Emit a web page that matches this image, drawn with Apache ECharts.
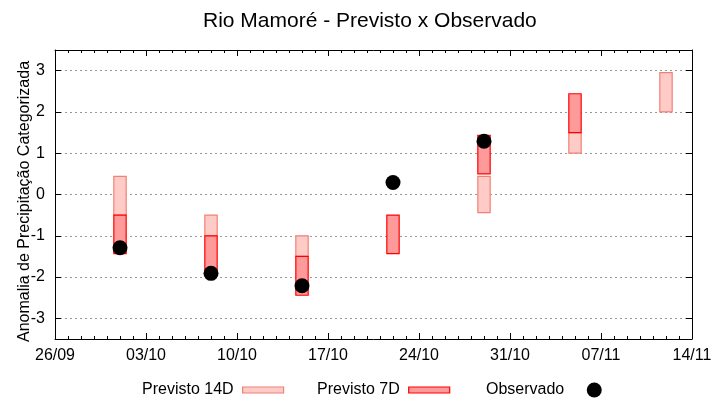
<!DOCTYPE html>
<html>
<head>
<meta charset="utf-8">
<script src="https://cdn.jsdelivr.net/npm/echarts@6/dist/echarts.min.js"></script>
<style>html,body{margin:0;padding:0;background:#fff}#c{width:720px;height:400px}</style>
</head>
<body>
<div id="c"></div>
<script>
const titleText = 'Rio Mamoré - Previsto x Observado';
const yAxisName = 'Anomalia de Precipitação Categorizada';
const xTickLabels = ['26/09','03/10','10/10','17/10','24/10','31/10','07/11','14/11'];
const yTicks = [-3, -2, -1, 0, 1, 2, 3];
const dates = ['01/10','08/10','15/10','22/10','29/10','05/11','12/11'];
const prev14Low  = [-0.5, -1.0, -1.5, null, -0.44, 1.0, 2.0];
const prev14High = [0.44, -0.5, -1.0, null, 0.44, 1.5, 2.95];
const prev7Low   = [-1.43, -1.95, -2.44, -1.43, 0.5, 1.5, null];
const prev7High  = [-0.5, -1.0, -1.5, -0.5, 1.43, 2.44, null];
const observed   = [-1.29, -1.91, -2.21, 0.29, 1.29, null, null];

const YEAR = 2023;
function dayOffset(s) {
  const [d, m] = s.split('/').map(Number);
  const base = Date.UTC(YEAR, 8, 26);
  return Math.round((Date.UTC(YEAR, m - 1, d) - base) / 86400000);
}
const xs = dates.map(dayOffset);
const xMax = (xTickLabels.length - 1) * 7;

function boxData(lo, hi) {
  const out = [];
  xs.forEach((x, i) => { if (lo[i] != null && hi[i] != null) out.push([x, lo[i], hi[i]]); });
  return out;
}
const obsData = [];
xs.forEach((x, i) => { if (observed[i] != null) obsData.push([x, observed[i]]); });

const HALF = 0.475;
function makeRender(fill, stroke) {
  return function (params, api) {
    const x = api.value(0), lo = api.value(1), hi = api.value(2);
    const p1 = api.coord([x - HALF, hi]);
    const p2 = api.coord([x + HALF, lo]);
    return {
      type: 'rect',
      shape: { x: p1[0], y: p1[1], width: p2[0] - p1[0], height: p2[1] - p1[1] },
      style: { fill: fill, stroke: stroke, lineWidth: 1.2 }
    };
  };
}

const FONT = 'Liberation Sans';
const c14Fill = '#ffcbc7', c14Stroke = '#f08078';
const c7Fill = '#ff9a9a', c7Stroke = '#ff0000';

const chart = echarts.init(document.getElementById('c'), null, { renderer: 'canvas' });
const axisLine = { show: true, onZero: false, lineStyle: { color: '#000', width: 1 } };
const legendText = { fontSize: 16, color: '#000', fontFamily: FONT, padding: [0, 4, 0, 0] };
chart.setOption({
  animation: false,
  textStyle: { fontFamily: FONT },
  title: {
    text: titleText, left: 198, top: 6,
    textStyle: { fontSize: 21, fontWeight: 'normal', color: '#000', fontFamily: FONT }
  },
  grid: { left: 55, right: 28, top: 50, bottom: 61, containLabel: false },
  legend: [
    {
      left: 137, top: 377, align: 'right', itemWidth: 41, itemHeight: 6,
      textStyle: legendText,
      data: [{ name: 'Previsto 14D', icon: 'rect', itemStyle: { color: c14Fill, borderColor: c14Stroke, borderWidth: 1.2 } }]
    },
    {
      left: 312, top: 377, align: 'right', itemWidth: 41, itemHeight: 6,
      textStyle: legendText,
      data: [{ name: 'Previsto 7D', icon: 'rect', itemStyle: { color: c7Fill, borderColor: c7Stroke, borderWidth: 1.2 } }]
    },
    {
      left: 481, top: 377, align: 'right', itemWidth: 42, itemHeight: 15,
      textStyle: legendText,
      data: [{ name: 'Observado', icon: 'circle', itemStyle: { color: '#000' } }]
    }
  ],
  xAxis: [
    {
      type: 'value', min: 0, max: xMax, interval: 7, position: 'bottom',
      axisLine: axisLine,
      axisTick: { show: true, inside: true, length: 6, lineStyle: { color: '#000' } },
      minorTick: { show: true, splitNumber: 7, length: 3, lineStyle: { color: '#000' } },
      axisLabel: { color: '#000', fontSize: 16, margin: 9, fontFamily: FONT,
        formatter: v => xTickLabels[Math.round(v / 7)] },
      splitLine: { show: false }
    },
    {
      type: 'value', min: 0, max: xMax, interval: 7, position: 'top',
      axisLine: axisLine,
      axisTick: { show: true, inside: true, length: 6, lineStyle: { color: '#000' } },
      minorTick: { show: true, splitNumber: 7, length: 3, lineStyle: { color: '#000' } },
      axisLabel: { show: false },
      splitLine: { show: false }
    }
  ],
  yAxis: [
    {
      type: 'value', min: -3.5, max: 3.5, interval: 1, position: 'left',
      name: yAxisName, nameLocation: 'middle', nameGap: 22, nameMoveOverlap: false,
      nameTextStyle: { fontSize: 16, color: '#000', fontFamily: FONT, padding: [0, 14, 0, 0] },
      axisLine: axisLine,
      axisTick: { show: true, inside: true, length: 6, customValues: yTicks, lineStyle: { color: '#000' } },
      axisLabel: { color: '#000', fontSize: 16, margin: 10, customValues: yTicks, fontFamily: FONT },
      splitLine: { show: true, lineStyle: { color: '#999', type: [2, 3], width: 1 } }
    },
    {
      type: 'value', min: -3.5, max: 3.5, interval: 1, position: 'right',
      axisLine: axisLine,
      axisTick: { show: true, inside: true, length: 6, customValues: yTicks, lineStyle: { color: '#000' } },
      axisLabel: { show: false },
      splitLine: { show: false }
    }
  ],
  series: [
    {
      name: 'Previsto 14D', type: 'custom', xAxisIndex: 0, yAxisIndex: 0,
      renderItem: makeRender(c14Fill, c14Stroke),
      itemStyle: { color: c14Fill, borderColor: c14Stroke },
      encode: { x: 0, y: [1, 2] },
      data: boxData(prev14Low, prev14High), z: 3
    },
    {
      name: 'Previsto 7D', type: 'custom', xAxisIndex: 0, yAxisIndex: 0,
      renderItem: makeRender(c7Fill, c7Stroke),
      itemStyle: { color: c7Fill, borderColor: c7Stroke },
      encode: { x: 0, y: [1, 2] },
      data: boxData(prev7Low, prev7High), z: 4
    },
    {
      name: 'Observado', type: 'scatter', xAxisIndex: 0, yAxisIndex: 0,
      symbol: 'circle', symbolSize: 15,
      itemStyle: { color: '#000', opacity: 1 },
      data: obsData, z: 5
    }
  ]
});
</script>
</body>
</html>
